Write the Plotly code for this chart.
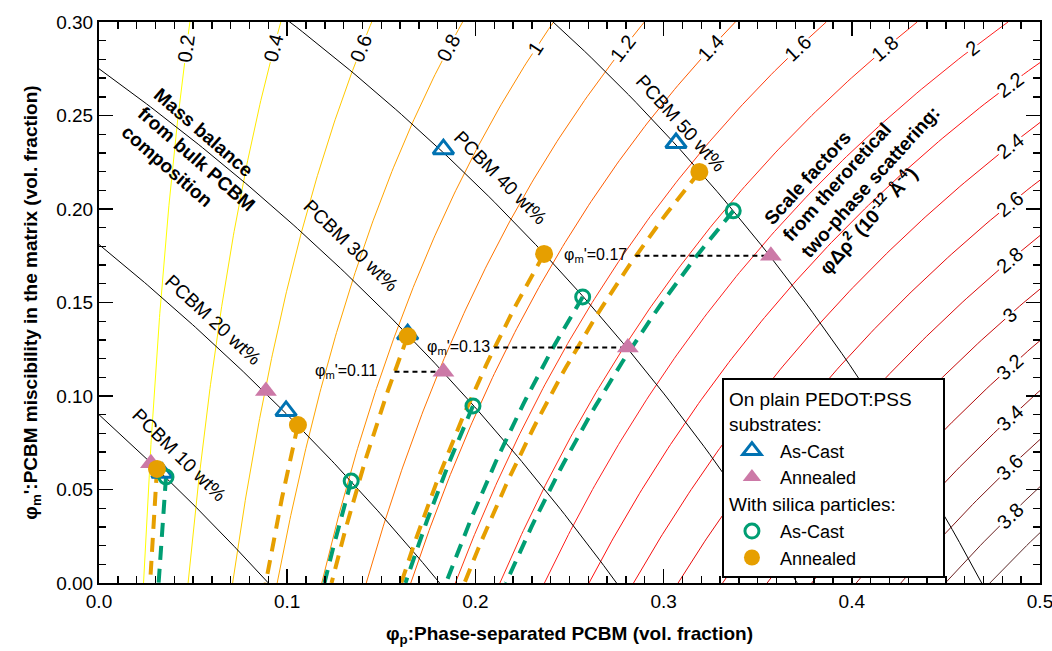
import numpy as np
import plotly.graph_objects as go

# ---------------- data ----------------
# bulk PCBM compositions -> volume fraction used for the mass-balance lines
wt_labels = ["PCBM 10 wt%", "PCBM 20 wt%", "PCBM 30 wt%", "PCBM 40 wt%", "PCBM 50 wt%"]
bulk_vol_frac = [0.090, 0.181, 0.275, 0.371, 0.469]
wt_label_x = [0.0430, 0.0611, 0.1339, 0.2131, 0.3092]
wt_label_y = [0.0684, 0.1406, 0.1807, 0.2166, 0.2455]

# scale-factor contour levels  phi*drho^2 (1e-12 A^-4)
scale_levels = [0.2, 0.4, 0.6, 0.8, 1.0, 1.2, 1.4, 1.6, 1.8, 2.0,
                2.2, 2.4, 2.6, 2.8, 3.0, 3.2, 3.4, 3.6, 3.8, 4.0]
scale_colors = ["#FFFF00", "#FFE800", "#FFC800", "#FFA500", "#FF8C00",
                "#FF7400", "#FF5A00", "#FF3C10", "#FF2A14", "#FF1E1E",
                "#FF1010", "#F50F0F", "#E80A0A", "#DC0A0A", "#C80808",
                "#B00808", "#961010", "#801818", "#6A2020", "#5A2828"]
contrast_sq = 8.45   # (delta rho_0)^2 in 1e-12 A^-4

# measured points
plain_cast_x = [0.0335, 0.0994, 0.164, 0.183, 0.3066]
plain_cast_y = [0.059, 0.092, 0.133, 0.232, 0.2353]
plain_ann_x = [0.0276, 0.0887, 0.183, 0.281, 0.357]
plain_ann_y = [0.064, 0.1027, 0.113, 0.126, 0.175]
silica_cast_x = [0.0356, 0.134, 0.1987, 0.257, 0.337]
silica_cast_y = [0.0567, 0.0545, 0.0947, 0.153, 0.199]
silica_ann_x = [0.0308, 0.1057, 0.164, 0.2365, 0.319]
silica_ann_y = [0.061, 0.0845, 0.132, 0.176, 0.2198]

# miscibility markers (end at annealed plain points 3,4,5)
misc_labels = ["φ<sub>m</sub>'=0.11", "φ<sub>m</sub>'=0.13", "φ<sub>m</sub>'=0.17"]
misc_point_idx = [2, 3, 4]
misc_line_start = [0.157, 0.210, 0.285]
misc_text_x = [0.149, 0.173, 0.246]
misc_text_anchor = ["right", "left", "left"]

x_ticks = [0.0, 0.1, 0.2, 0.3, 0.4, 0.5]
y_ticks = [0.00, 0.05, 0.10, 0.15, 0.20, 0.25, 0.30]

BLUE = "#0072B2"
PINK = "#CC79A7"
GREEN = "#009E73"
ORANGE = "#E69F00"
FONT = "Liberation Sans, Arial, sans-serif"
NB = "\u00a0"

W, H = 1052, 651
ML, MR, MT, MB = 99, 12, 22, 68
sx = (W - ML - MR) / 0.5
sy = (H - MT - MB) / 0.3

fig = go.Figure()
ann = []

# ---- scale-factor contours ----
fm = np.linspace(0, 0.3, 151)
for L, col in zip(scale_levels, scale_colors):
    fp = L / (contrast_sq * (1 - fm) ** 2)
    fig.add_trace(go.Scatter(x=fp, y=fm, mode="lines", line=dict(color=col, width=1),
                             showlegend=False, hoverinfo="skip"))
    ylab = 0.286
    xlab = L / (contrast_sq * (1 - ylab) ** 2)
    if xlab > 0.47:
        xlab = 0.484
        ylab = 1 - np.sqrt(L / (contrast_sq * xlab))
    if ylab < 0.025:
        continue
    slope = (1 - ylab) / (2 * xlab)
    ang = np.degrees(np.arctan(slope * sy / sx))
    ann.append(dict(x=xlab, y=ylab, text=f"{L:g}", showarrow=False, textangle=-ang,
                    font=dict(size=20, color="black", family=FONT), bgcolor="white",
                    borderpad=0))

# ---- mass balance lines ----
for lab, ft, lx, ly in zip(wt_labels, bulk_vol_frac, wt_label_x, wt_label_y):
    fp = np.linspace(0, ft, 121)
    fmb = (ft - fp) / (1 - fp)
    fig.add_trace(go.Scatter(x=fp, y=fmb, mode="lines", line=dict(color="black", width=1),
                             showlegend=False, hoverinfo="skip"))
    slope = (1 - ft) / (1 - lx) ** 2
    th = np.degrees(np.arctan(slope * sy / sx))
    ann.append(dict(x=lx, y=ly, text=lab, showarrow=False, textangle=th,
                    font=dict(size=19, color="black", family=FONT)))

# ---- iso-scale dashed curves from the silica samples ----
for xs, ys, col in [(silica_ann_x, silica_ann_y, ORANGE), (silica_cast_x, silica_cast_y, GREEN)]:
    for x0, y0 in zip(xs, ys):
        c = x0 * (1 - y0) ** 2
        yy = np.linspace(y0, 0, 60)
        xx = c / (1 - yy) ** 2
        fig.add_trace(go.Scatter(x=xx, y=yy, mode="lines",
                                 line=dict(color=col, width=4, dash="14px,9px"),
                                 showlegend=False, hoverinfo="skip"))

# ---- miscibility dashed markers ----
for lab, idx, xs0, xt, anc in zip(misc_labels, misc_point_idx, misc_line_start, misc_text_x, misc_text_anchor):
    yv = plain_ann_y[idx]
    fig.add_trace(go.Scatter(x=[xs0, plain_ann_x[idx]], y=[yv, yv], mode="lines",
                             line=dict(color="black", width=2, dash="5px,4px"),
                             showlegend=False, hoverinfo="skip"))
    ann.append(dict(x=xt, y=yv, text=lab, showarrow=False, xanchor=anc,
                    font=dict(size=16, color="black", family=FONT)))

# ---- points ----
fig.add_trace(go.Scatter(x=plain_cast_x, y=plain_cast_y, mode="markers", name="As-Cast",
                         marker=dict(symbol="triangle-up-open", size=18, color=BLUE,
                                     line=dict(width=3, color=BLUE)),
                         legendgroup="plain",
                         legendgrouptitle=dict(text="On plain PEDOT:PSS" + NB * 4 + "<br>substrates:",
                                               font=dict(size=19, family=FONT))))
fig.add_trace(go.Scatter(x=plain_ann_x, y=plain_ann_y, mode="markers", name="Annealed",
                         marker=dict(symbol="triangle-up", size=19, color=PINK),
                         legendgroup="plain"))
fig.add_trace(go.Scatter(x=silica_cast_x, y=silica_cast_y, mode="markers", name="As-Cast",
                         marker=dict(symbol="circle-open", size=14, color=GREEN,
                                     line=dict(width=3, color=GREEN)),
                         legendgroup="silica",
                         legendgrouptitle=dict(text="With silica particles:",
                                               font=dict(size=19, family=FONT))))
fig.add_trace(go.Scatter(x=silica_ann_x, y=silica_ann_y, mode="markers", name="Annealed",
                         marker=dict(symbol="circle", size=18, color=ORANGE),
                         legendgroup="silica"))

# ---- block texts ----
ann.append(dict(x=0.052, y=0.227, text="<b>Mass balance<br>from bulk PCBM<br>composition</b>",
                showarrow=False, textangle=41, align="left",
                font=dict(size=19, color="black", family=FONT)))
ann.append(dict(x=0.405, y=0.219,
                text="<b>Scale factors<br>from theroretical<br>two-phase scattering:<br>"
                     "φΔρ<sup>2</sup> (10<sup>-12</sup> Å<sup>-4</sup>)</b>",
                showarrow=False, textangle=-48, align="left",
                font=dict(size=19, color="black", family=FONT)))

axis_common = dict(showgrid=False, zeroline=False, showline=True, linecolor="black", linewidth=2,
                   mirror="ticks", ticks="inside", ticklen=14, tickwidth=1.8, tickcolor="black",
                   ticklabeloverflow="allow",
                   tickfont=dict(size=19, family=FONT, color="black"))
minor_common = dict(dtick=0.01, ticks="inside", ticklen=7, tickwidth=1.4, tickcolor="black")

fig.update_layout(
    width=W, height=H, margin=dict(l=ML, r=MR, t=MT, b=MB, autoexpand=False),
    plot_bgcolor="white", paper_bgcolor="white", hovermode=False,
    font=dict(family=FONT, color="black"),
    xaxis=dict(range=[0, 0.5], tickvals=x_ticks, tickformat=".1f", minor=minor_common,
               title=dict(text="<b>φ<sub>p</sub>:Phase-separated PCBM (vol. fraction)</b>",
                          font=dict(size=19, family=FONT), standoff=16),
               **axis_common),
    yaxis=dict(range=[0, 0.3], tickvals=y_ticks, tickformat=".2f", minor=minor_common,
               title=dict(text="<b>φ<sub>m</sub>':PCBM miscibility in the matrix (vol. fraction)</b>",
                          font=dict(size=19, family=FONT), standoff=14),
               **axis_common),
    legend=dict(x=0.662, y=0.3654, xanchor="left", yanchor="top", bgcolor="white",
                bordercolor="black", borderwidth=2, font=dict(size=18, family=FONT),
                tracegroupgap=0, traceorder="grouped", itemwidth=46),
    annotations=ann,
)

fig.write_html("out.html", config={"displayModeBar": False, "staticPlot": True},
               post_script="document.body.style.margin='0px';"
                           "document.body.style.overflow='hidden';")
